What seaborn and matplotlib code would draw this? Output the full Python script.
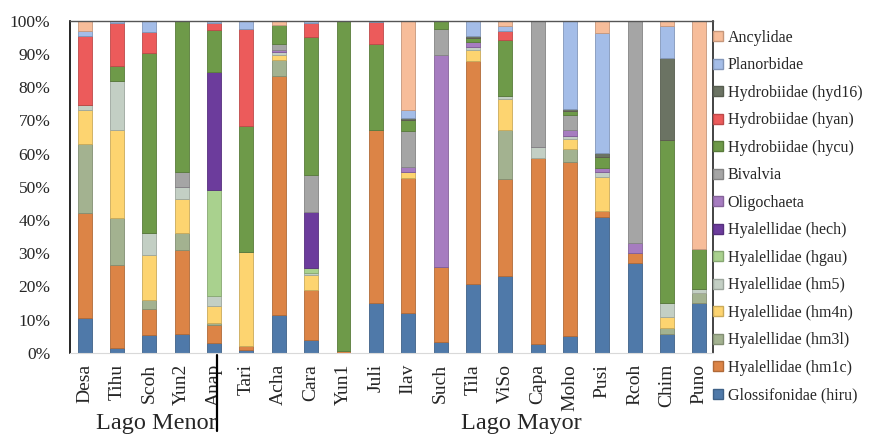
import numpy as np
import pandas as pd
import matplotlib
matplotlib.use("Agg")
import matplotlib.pyplot as plt
import matplotlib.transforms as mtransforms
from matplotlib.patches import Patch
from matplotlib import colors as mcolors
import seaborn as sns

# sites (x categories)
sites = ["Desa", "Tihu", "Scoh", "Yun2", "Anap", "Tari", "Acha", "Cara", "Yun1", "Juli",
         "Ilav", "Such", "Tila", "ViSo", "Capa", "Moho", "Pusi", "Rcoh", "Chim", "Puno"]

# relative abundance (%) per taxon, bottom of the stack first
hiru  = [10.5, 1.5, 5.4, 5.7, 3.0, 1.0, 11.4, 4.0, 0.0, 15.0, 12.0, 3.4, 20.8, 23.2, 2.7, 5.1, 41.0, 27.1, 5.7, 15.0]
hm1c  = [31.5, 25.0, 7.8, 25.3, 5.4, 1.0, 72.0, 15.0, 0.7, 52.2, 40.7, 22.6, 67.1, 29.2, 56.0, 52.4, 1.6, 2.9, 0.0, 0.0]
hm3l  = [21.0, 14.2, 2.8, 5.0, 0.6, 0.0, 4.9, 0.0, 0.0, 0.0, 0.0, 0.0, 0.0, 14.8, 0.0, 3.9, 0.0, 0.0, 1.8, 3.0]
hm4n  = [10.0, 26.3, 13.5, 10.4, 5.0, 28.5, 1.5, 4.5, 0.0, 0.0, 1.8, 0.0, 3.4, 9.3, 0.0, 3.0, 10.4, 0.0, 3.3, 0.0]
hm5   = [1.5, 15.0, 6.5, 3.6, 3.2, 0.0, 0.8, 0.5, 0.0, 0.0, 0.0, 0.0, 0.7, 0.8, 3.3, 0.8, 1.5, 0.0, 4.2, 1.2]
hgau  = [0, 0, 0, 0, 31.7, 0, 0, 1.6, 0, 0, 0, 0, 0, 0, 0, 0, 0, 0, 0, 0]
hech  = [0, 0, 0, 0, 35.7, 0, 0, 16.9, 0, 0, 0, 0, 0, 0, 0, 0, 0, 0, 0, 0]
olig  = [0, 0, 0, 0, 0, 0, 0.7, 0, 0, 0, 1.4, 63.8, 1.5, 0, 0, 2.0, 1.2, 3.0, 0, 0]
biv   = [0, 0, 0, 4.5, 0, 0, 1.7, 11.0, 0, 0, 10.8, 7.8, 0, 0, 38.0, 4.5, 0, 67.0, 0, 0]
hycu  = [0, 4.4, 54.4, 45.5, 12.7, 37.9, 5.8, 41.7, 99.3, 25.9, 3.3, 2.4, 1.2, 17.0, 0, 1.2, 3.2, 0, 49.2, 12.1]
hyan  = [21.0, 13.0, 6.3, 0, 2.1, 29.0, 0, 4.2, 0, 6.4, 0, 0, 0, 2.6, 0, 0, 0, 0, 0, 0]
hyd16 = [0, 0, 0, 0, 0, 0, 0, 0, 0, 0, 0.8, 0, 0.6, 0, 0, 0.6, 1.2, 0, 24.6, 0]
plan  = [1.5, 0.6, 3.3, 0, 0.6, 2.6, 0, 0.6, 0, 0.5, 2.2, 0, 4.7, 1.4, 0, 26.5, 36.3, 0, 9.7, 0]
ancy  = [3.0, 0, 0, 0, 0, 0, 1.2, 0, 0, 0, 27.0, 0, 0, 1.7, 0, 0, 3.6, 0, 1.5, 68.7]

taxa = ["Glossifonidae (hiru)", "Hyalellidae (hm1c)", "Hyalellidae (hm3l)", "Hyalellidae (hm4n)",
        "Hyalellidae (hm5)", "Hyalellidae (hgau)", "Hyalellidae (hech)", "Oligochaeta", "Bivalvia",
        "Hydrobiidae (hycu)", "Hydrobiidae (hyan)", "Hydrobiidae (hyd16)", "Planorbidae", "Ancylidae"]
values = [hiru, hm1c, hm3l, hm4n, hm5, hgau, hech, olig, biv, hycu, hyan, hyd16, plan, ancy]
colors = ["#4f79a9", "#dc8446", "#a3b290", "#fdd470", "#c3cfc4", "#a9d18e", "#6c3c9c",
          "#a67cc0", "#a5a5a5", "#6e9a49", "#ec5b5b", "#6b7363", "#a4bde8", "#f7bd9a"]

groups = ["Lago Menor", "Lago Mayor"]

rows = []
for t, v in zip(taxa, values):
    for s, p in zip(sites, v):
        rows.append((s, t, p))
df = pd.DataFrame(rows, columns=["site", "taxon", "pct"])

sns.set_style("white")
plt.rcParams['font.family'] = ['Liberation Serif', 'DejaVu Serif']

fig = plt.figure(figsize=(8.72, 4.34), dpi=100)
ax = fig.add_axes([0.080, 0.187, 0.738, 0.765])

# seaborn stacks the first hue level on top, so reverse the order
sns.histplot(data=df, x="site", hue="taxon", weights="pct", multiple="stack",
             discrete=True, shrink=0.43, hue_order=taxa[::-1],
             palette=dict(zip(taxa, colors)), alpha=1, linewidth=0.6,
             legend=False, ax=ax)

def darker(c, f=0.8):
    r, g, b, a = mcolors.to_rgba(c)
    return (r * f, g * f, b * f, 1)

for cont in ax.containers:
    for p in cont.patches:
        p.set_edgecolor(darker(p.get_facecolor()))

ax.set_xlim(-0.46, len(sites) - 0.57)
ax.set_ylim(0, 100)
ax.set_yticks(np.arange(0, 101, 10))
ax.set_yticklabels([f"{t}%" for t in range(0, 101, 10)], fontsize=12.5)
ax.set_xticks(range(len(sites)))
ax.set_xticklabels(sites, rotation=90, fontsize=14)
ax.tick_params(axis="both", length=0)
ax.tick_params(axis="y", pad=14)
ax.tick_params(axis="x", pad=8)
ax.set_xlabel("")
ax.set_ylabel("")

ax.spines["left"].set_color("black")
ax.spines["left"].set_linewidth(1.2)
ax.spines["right"].set_color("#222222")
ax.spines["right"].set_linewidth(1.2)
ax.spines["top"].set_color("#555555")
ax.spines["top"].set_linewidth(1.0)
ax.spines["bottom"].set_color("#d9d9d9")
ax.spines["bottom"].set_linewidth(0.8)

# lake group labels and separator
trans = mtransforms.blended_transform_factory(ax.transData, ax.transAxes)
ax.plot([4.1, 4.1], [-0.006, -0.235], color="black", lw=1.6, transform=trans, clip_on=False)
ax.text(2.2, -0.214, groups[0], transform=trans, ha="center", va="center", fontsize=17.5)
ax.text(13.5, -0.214, groups[1], transform=trans, ha="center", va="center", fontsize=17.5)

handles = [Patch(facecolor=c, edgecolor=darker(c)) for c in colors[::-1]]
fig.legend(handles, taxa[::-1], loc="upper left", bbox_to_anchor=(0.818, 0.931),
           frameon=False, fontsize=11.5, handlelength=0.6, handleheight=0.6,
           handletextpad=0.3, labelspacing=0.72, borderpad=0, borderaxespad=0)

fig.savefig("out.png", dpi=100)
